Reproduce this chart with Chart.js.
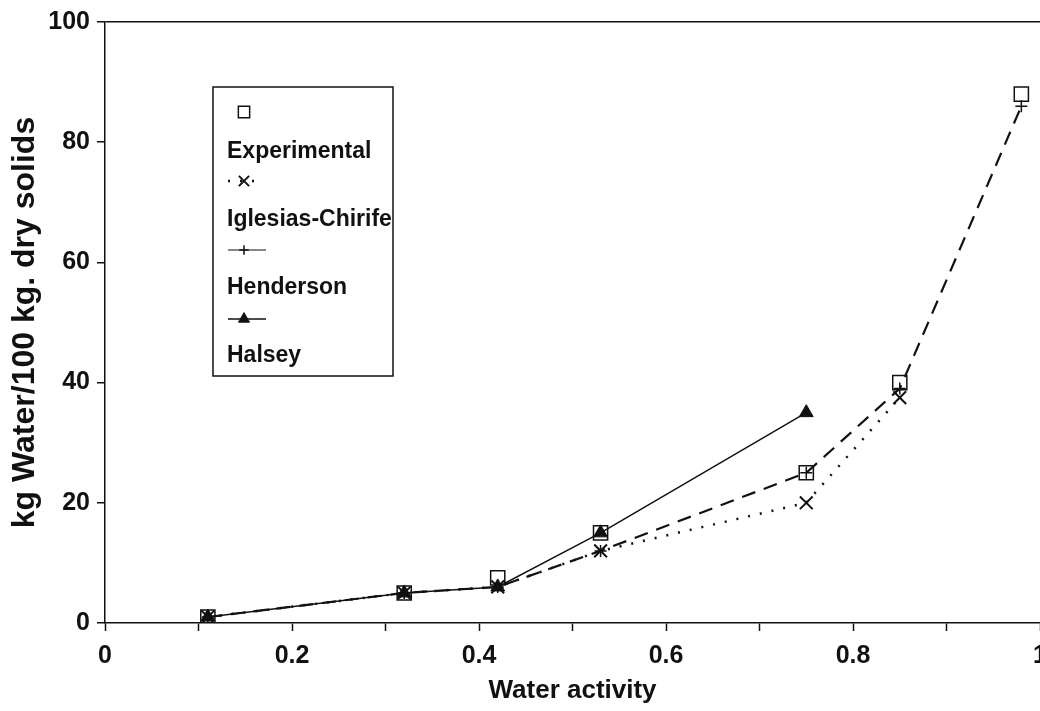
<!DOCTYPE html>
<html>
<head>
<meta charset="utf-8">
<script src="https://cdn.jsdelivr.net/npm/chart.js@4/dist/chart.umd.min.js"></script>
<style>
  html, body { margin: 0; padding: 0; background: #fff; overflow: hidden; }
  #wrap { width: 1057px; height: 711px; }
</style>
</head>
<body>
<div id="wrap"><canvas id="myChart"></canvas></div>
<script>
// water activity of the salt solutions
const waterActivity = [0.11, 0.32, 0.42, 0.53, 0.75, 0.85, 0.98];
const experimental = [1, 5, 7.5, 15, 25, 40, 88];
const iglesiasChirife = [1, 5, 6, 12, 20, 37.5];
const henderson = [1, 5, 6, 12, 25, 39, 86];
const halsey = [1, 5, 6, 15, 35];
const seriesNames = ['Experimental', 'Iglesias-Chirife', 'Henderson', 'Halsey'];
const xTickLabels = ['0', '0.2', '0.4', '0.6', '0.8', '1'];
const yTicks = [0, 20, 40, 60, 80, 100];

const FONT = 'Liberation Sans, Arial, sans-serif';
const INK = '#111';

function toPoints(ys) {
    return ys.map(function (y, i) { return { x: waterActivity[i], y: y }; });
}

const legendBox = {
    id: 'legendBox',
    afterDraw(chart) {
        const ctx = chart.ctx;
        const sets = chart.data.datasets;
        ctx.save();
        ctx.strokeStyle = INK;
        ctx.lineWidth = 1.5;
        ctx.strokeRect(213, 87, 180, 289);
        ctx.font = 'bold 23px ' + FONT;
        ctx.fillStyle = INK;
        ctx.textBaseline = 'middle';
        for (let i = 0; i < sets.length; i++) {
            const ds = sets[i];
            const my = 112 + i * 69;
            const ty = 152 + i * 68;
            if (ds.showLine) {
                ctx.beginPath();
                ctx.setLineDash(i === 2 ? [] : (ds.borderDash || []));
                ctx.lineWidth = i === 2 ? 1 : ds.borderWidth;
                ctx.strokeStyle = INK;
                ctx.moveTo(228, my);
                ctx.lineTo(i === 1 ? 256 : 266, my);
                ctx.stroke();
                ctx.setLineDash([]);
            }
            ctx.strokeStyle = INK;
            ctx.fillStyle = ds.pointBackgroundColor;
            ctx.lineWidth = ds.pointBorderWidth;
            Chart.helpers.drawPoint(ctx, {
                pointStyle: ds.pointStyle,
                radius: ds.pointRadius * 0.8,
                rotation: 0,
                borderWidth: ds.pointBorderWidth
            }, 244, my);
            ctx.fillStyle = INK;
            ctx.fillText(ds.label, 227, ty);
        }
        ctx.restore();
    }
};

let ctx = document.getElementById('myChart').getContext('2d');
let myChart = new Chart(ctx, {
    type: 'scatter',
    data: {
        datasets: [{
            label: seriesNames[0],
            data: toPoints(experimental),
            showLine: false,
            pointStyle: 'rect',
            pointRadius: 10,
            pointBorderWidth: 1.5,
            pointBorderColor: INK,
            pointBackgroundColor: 'rgba(255,255,255,0)',
            borderColor: INK
        }, {
            label: seriesNames[1],
            data: toPoints(iglesiasChirife),
            showLine: true,
            borderColor: INK,
            borderWidth: 2.5,
            borderDash: [2, 10],
            pointStyle: 'crossRot',
            pointRadius: 9,
            pointBorderWidth: 2,
            pointBorderColor: INK,
            pointBackgroundColor: INK
        }, {
            label: seriesNames[2],
            data: toPoints(henderson),
            showLine: true,
            borderColor: INK,
            borderWidth: 2.2,
            borderDash: [14, 9],
            pointStyle: 'cross',
            pointRadius: 6,
            pointBorderWidth: 1.5,
            pointBorderColor: INK,
            pointBackgroundColor: INK
        }, {
            label: seriesNames[3],
            data: toPoints(halsey),
            showLine: true,
            borderColor: INK,
            borderWidth: 1.5,
            pointStyle: 'triangle',
            pointRadius: 8,
            pointBorderWidth: 1,
            pointBorderColor: INK,
            pointBackgroundColor: INK
        }]
    },
    options: {
        responsive: true,
        maintainAspectRatio: false,
        animation: false,
        layout: { padding: { top: 20, left: 0, right: 0, bottom: 0 } },
        plugins: {
            legend: { display: false },
            tooltip: { enabled: false }
        },
        scales: {
            x: {
                type: 'linear',
                min: 0,
                max: 1,
                afterFit: function (scale) { scale.height = 88; },
                afterBuildTicks: function (scale) {
                    scale.ticks = [];
                    for (let k = 0; k <= 10; k++) scale.ticks.push({ value: k / 10 });
                },
                ticks: {
                    autoSkip: false,
                    maxRotation: 0,
                    padding: 10,
                    color: INK,
                    font: { family: FONT, size: 25, weight: 'bold' },
                    callback: function (value) {
                        const k = Math.round(value * 10);
                        return k % 2 === 0 ? xTickLabels[k / 2] : '';
                    }
                },
                grid: {
                    drawOnChartArea: false,
                    tickColor: INK,
                    tickLength: 8,
                    tickWidth: 1.5
                },
                border: { display: true, color: INK, width: 1.5 },
                title: {
                    display: true,
                    text: 'Water activity',
                    color: INK,
                    font: { family: FONT, size: 26, weight: 'bold' },
                    padding: { top: 0, bottom: 5 }
                }
            },
            y: {
                type: 'linear',
                min: 0,
                max: 100,
                afterFit: function (scale) { scale.width = 105; },
                afterBuildTicks: function (scale) {
                    scale.ticks = yTicks.map(function (v) { return { value: v }; });
                },
                ticks: {
                    padding: 7,
                    color: INK,
                    font: { family: FONT, size: 25, weight: 'bold' }
                },
                grid: {
                    drawOnChartArea: true,
                    color: function (c) { return c.tick && c.tick.value === 100 ? INK : 'rgba(0,0,0,0)'; },
                    lineWidth: 1.5,
                    tickColor: INK,
                    tickLength: 8,
                    tickWidth: 1.5
                },
                border: { display: true, color: INK, width: 1.5 },
                title: {
                    display: true,
                    text: 'kg Water/100 kg. dry solids',
                    color: INK,
                    font: { family: FONT, size: 32, weight: 'bold' },
                    padding: { top: 6, bottom: 0 }
                }
            }
        }
    },
    plugins: [legendBox]
});
</script>
</body>
</html>
